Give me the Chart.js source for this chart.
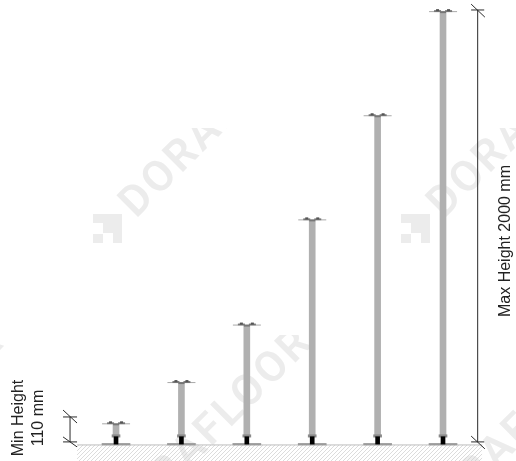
<!DOCTYPE html>
<html><head><meta charset="utf-8">
<style>html,body{margin:0;padding:0;background:#fff}canvas{display:block}</style>
<script src="https://cdn.jsdelivr.net/npm/chart.js@4"></script></head>
<body><canvas id="c" width="516" height="461"></canvas>
<script>
const pedestals = [1,2,3,4,5,6];
const heights = [100,290,555,1040,1520,2000];
const maxLabel = 'Max Height 2000 mm';
const minLabel = ['Min Height','110 mm'];
const watermarkWord = 'DORAFLOOR';

function hatch(){
  const t=document.createElement('canvas');t.width=4;t.height=4;
  const g=t.getContext('2d');g.strokeStyle='#cdcdcd';g.lineWidth=.7;
  g.beginPath();g.moveTo(-1,5);g.lineTo(5,-1);g.moveTo(-1,1);g.lineTo(1,-1);g.moveTo(3,5);g.lineTo(5,3);g.stroke();
  return document.getElementById('c').getContext('2d').createPattern(t,'repeat');
}
function headGlyph(){
  const t=document.createElement('canvas');t.width=30;t.height=8;
  const g=t.getContext('2d');
  g.fillStyle='#a8a8a8';g.fillRect(1,4,28,1);
  g.fillStyle='#777';g.fillRect(6,3,7,2);g.fillRect(17,3,7,2);
  g.fillStyle='#555';g.fillRect(8,2,3,2);g.fillRect(19,2,3,2);
  g.fillStyle='#777';g.fillRect(12,4,6,2);
  return t;
}
const head=headGlyph();

const watermark={id:'wm',beforeDatasetsDraw(ch){
  const c=ch.ctx;const G='#ececec';
  const tile=(clip,x,y,text,logo)=>{
    c.save();c.beginPath();c.rect(...clip);c.clip();c.fillStyle=G;
    if(logo){const [a,b]=logo;c.fillRect(a,b,29,29);c.fillStyle='#fff';c.fillRect(a,b+9,10,11);c.fillRect(a+10,b+19,10,10);c.fillStyle=G;}
    c.translate(x,y);c.rotate(-Math.PI/4);
    c.font='600 43px Roboto';c.letterSpacing='3px';c.textBaseline='alphabetic';
    c.fillText(text,0,0);c.restore();
  };
  tile([80,128,200,130],136,219,watermarkWord,[93,214]);
  tile([388,128,128,130],444,219,watermarkWord,[401,214]);
  for(const dx of [-308,0,308]) tile([dx,335,320,126],122+dx,536,watermarkWord,null);
}};
const annotate={id:'ann',afterDatasetsDraw(ch){
  const c=ch.ctx;c.save();c.fillStyle='#222';c.font='16px "Liberation Sans"';c.textAlign='center';c.textBaseline='middle';
  const put=(s,px,py)=>{c.save();c.translate(px,py);c.rotate(-Math.PI/2);c.fillText(s,0,0);c.restore();};
  put(maxLabel,506,241);put(minLabel[0],19,418);put(minLabel[1],39,418);
  c.restore();
}};
const seg=(pts,w=1,col='#2a2a2a')=>({type:'line',data:pts,borderColor:col,borderWidth:w,pointRadius:0,fill:false,tension:0,order:0});
new Chart(document.getElementById('c'),{
  data:{datasets:[
    {type:'line',label:'ground',data:[{x:0.404,y:0},{x:6.6,y:0}],borderColor:'#bdbdbd',borderWidth:1,pointRadius:0,fill:{value:-200},backgroundColor:hatch(),order:9},
    {type:'bar',label:'base',data:pedestals.map(n=>({x:n,y:[0,7]})),backgroundColor:'#9b9b9b',barThickness:28,grouped:false,order:5},
    {type:'bar',label:'stem',data:pedestals.map((n,i)=>({x:n,y:[45,heights[i]-3]})),backgroundColor:'#b0b0b0',barThickness:6,grouped:false,order:4},
    {type:'bar',label:'collar',data:pedestals.map(n=>({x:n,y:[36,47]})),backgroundColor:'#8a8a8a',barThickness:8,grouped:false,order:3},
    {type:'bar',label:'socket',data:pedestals.map(n=>({x:n,y:[4,38]})),backgroundColor:'#000',barThickness:4,grouped:false,order:2},
    {type:'scatter',label:'head',data:pedestals.map((n,i)=>({x:n,y:heights[i]})),pointStyle:head,pointRadius:15,order:1},
    seg([{x:6.53,y:14},{x:6.53,y:2005}]),
    seg([{x:6.43,y:2005},{x:6.63,y:2005}]),seg([{x:6.43,y:2032},{x:6.64,y:1972}]),
    seg([{x:6.43,y:14},{x:6.63,y:14}]),seg([{x:6.43,y:41},{x:6.64,y:-18}]),
    seg([{x:0.297,y:14},{x:0.297,y:129}]),
    seg([{x:0.19,y:129},{x:0.404,y:129}]),seg([{x:0.19,y:161},{x:0.404,y:101}]),
    seg([{x:0.19,y:14},{x:0.404,y:14}]),seg([{x:0.19,y:37},{x:0.404,y:-9}])
  ]},
  options:{responsive:false,animation:false,devicePixelRatio:1,
    layout:{padding:0,autoPadding:false},
    plugins:{legend:{display:false},tooltip:{enabled:false}},
    scales:{
      x:{type:'linear',display:false,min:-0.774,max:7.116,offset:false},
      y:{type:'linear',display:false,min:-74,max:2051}
    }},
  plugins:[watermark,annotate]
});
</script></body></html>
